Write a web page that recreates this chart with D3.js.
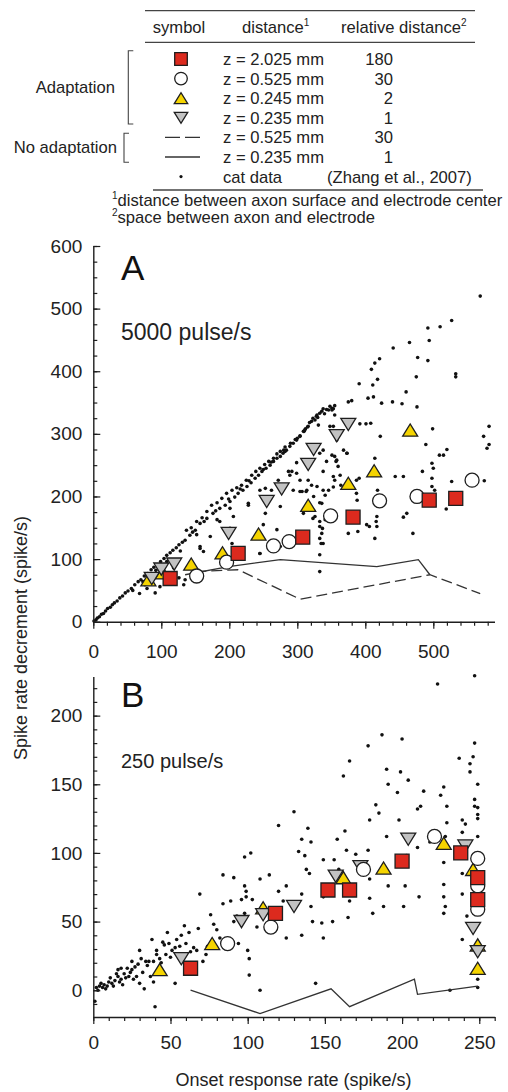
<!DOCTYPE html>
<html>
<head>
<meta charset="utf-8">
<script src="https://cdn.jsdelivr.net/npm/d3@7"></script>
<style>
body{margin:0;background:#fff;}
svg{display:block;font-family:"Liberation Sans",Arial,Helvetica,sans-serif;}
</style>
</head>
<body>
<svg id="chart" width="508" height="1092"></svg>
<script>
// ---- panel A (5000 pulse/s) ----
var aRed = [[113,69],[213,109],[308,135],[382,167],[494,194],[533,197]];
var aCircle = [[152,73],[196,95],[265,121],[288,128],[349,169],[421,193],[476,200],[557,226]];
var aYellow = [[81,67],[102,78],[144,92],[190,110],[243,140],[316,186],[375,221],[413,241],[466,306]];
var aGray = [[86,69],[100,84],[119,92],[199,141],[255,192],[277,212],[316,251],[324,275],[358,297],[375,315]];
var aSolid = [[135,75],[199,88],[275,99],[417,88],[478,99],[495,75]];
var aDashed = [[150,80],[213,83],[304,36],[495,75],[569,45]];
var aCat = [
  // thin rising edge near the origin
  [1,1],[4,3],[6,6],[9,8],[12,12],[15,13],[18,17],[21,21],[25,23],[28,27],[31,30],[35,33],[39,38],[43,41],
  [47,46],[51,49],[56,53],[61,59],[66,64],[70,67],[75,73],[80,77],[85,83],[89,87],[94,90],[99,96],[104,101],
  [108,106],[113,110],[117,114],[122,118],[126,123],[131,127],
  // upper band, top edge
  [137,146],[144,150],[152,160],[160,166],[167,176],[174,186],[182,190],[189,197],[196,205],[204,210],[211,214],
  [218,218],[225,226],[233,234],[239,240],[245,245],[252,251],[258,256],[265,261],[270,268],[275,272],[282,279],
  [290,285],[297,291],[304,296],[310,304],[316,312],[323,325],[329,330],[336,336],[343,339],[351,341],
  // upper band, lower edge
  [135,130],[142,138],[150,146],[157,157],[167,165],[176,173],[186,181],[194,186],[201,192],[208,199],[213,205],
  [220,210],[226,216],[232,222],[238,229],[243,234],[248,240],[254,245],[260,250],[265,256],[270,261],[275,264],
  [279,269],[284,274],[289,280],[294,285],[299,290],[304,297],[309,304],[315,311],[321,320],[328,328],[333,333],
  [340,332],[346,338],[353,340],[355,345],[348,344],[338,340],[330,326],[318,318],
  [146,143],[163,160],[180,177],[199,196],[216,212],[229,225],[250,243],[262,255],[280,274],[300,293],[312,308],
  [326,322],[58,50],[73,64],[92,82],[112,99],[128,113],
  // scatter below the band
  [68,45],[91,46],[108,96],[133,59],[135,67],[152,139],[157,120],[162,112],[172,136],[182,163],[201,149],
  [228,186],[245,109],[253,173],[76,59],[98,56],[118,86],[126,70],[140,88],[86,62],[79,53],
  [186,160],[201,181],[206,168],[228,189],[245,210],[253,213],[262,210],[272,226],[275,184],[289,234],[294,210],
  [299,237],[307,208],[314,210],[316,226],[321,218],[329,216],[338,240],[338,210],[343,256],[351,266],[353,232],
  [358,258],[338,274],[341,202],[336,189],[324,178],[326,168],[341,163],[333,152],[336,141],[333,133],[338,125],
  [368,274],[373,269],[250,155],[245,109],[204,125],[157,117],[270,147],[275,120],[358,290],[353,312],[351,338],
  [355,330],[311,306],[375,141],[333,160],
  // upper right scatter
  [569,520],[527,481],[510,471],[492,469],[494,449],[492,417],[465,446],[441,437],[477,422],[475,391],[421,420],
  [414,413],[409,403],[418,387],[411,378],[391,380],[533,396],[533,391],[460,367],[476,343],[404,357],[412,359],
  [424,349],[440,351],[454,348],[375,351],[380,353],[582,312],[574,296],[582,283],[579,277],[499,308],[489,283],
  [520,275],[515,266],[509,266],[498,253],[500,245],[498,229],[484,240],[527,224],[575,225],[422,296],[414,261],
  [444,232],[456,232],[392,316],[401,316],[408,317],[373,269],[357,256],[360,248],[363,234],[355,264],[391,229],
  [387,205],[388,194],[406,152],[417,152],[414,133],[417,168],[416,160],[418,210],[456,167],[461,173],[470,141],
  [519,180],[498,216],[502,210],[333,107],[333,80],[335,125],[337,149],[323,165],[319,181],[333,190],[346,210],
  [353,215],[355,226],[364,218],[387,226],[304,226],[304,208],[313,208],[324,200],[309,173],[287,240],[292,240],
  [299,254],[333,269],[282,272],[348,312],[331,314],[389,144],[402,155]
];

// ---- panel B (250 pulse/s) ----
var bRed = [[63,16],[118,56],[152,73],[166,73],[200,94],[238,100],[249,82],[249,66]];
var bCircle = [[87,34],[115,46],[175,88],[221,112],[249,96],[249,76],[249,59]];
var bYellow = [[43,15],[77,34],[110,60],[162,82],[188,89],[227,107],[246,88],[249,33],[249,16]];
var bGray = [[57,23],[96,50],[110,55],[130,61],[157,83],[173,90],[204,110],[241,105],[246,45],[249,28]];
var bSolid = [[63,0],[108,-17],[154,1],[166,-12],[208,8],[210,-3],[249,3]];
var bCat = [
  [1,-8],[2,2],[3,0],[4,3],[5,5],[6,2],[7,4],[8,1],[9,3],[10,6],[11,9],[12,5],[13,3],[14,7],[15,12],[16,10],
  [16,15],[17,6],[18,8],[18,16],[19,4],[20,12],[21,9],[22,16],[23,10],[24,13],[25,21],[25,15],[26,8],[27,17],
  [28,10],[29,19],[30,29],[30,5],[31,23],[32,13],[33,1],[34,21],[35,18],[36,21],[37,10],[38,37],[39,21],[39,6],
  [40,-12],[41,29],[41,26],[43,23],[44,20],[45,35],[46,33],[47,26],[48,42],[49,34],[50,24],[51,29],[53,31],[53,5],
  [54,37],[55,26],[56,32],[57,40],[59,47],[60,34],[62,42],[63,28],[65,31],[67,29],[68,45],[69,70],[71,21],[73,26],
  [74,32],[76,55],[78,48],[80,44],[82,38],[84,63],[84,84],[89,65],[91,50],[91,82],[93,54],[94,34],[96,66],[98,56],
  [98,76],[98,97],[99,72],[99,68],[100,29],[101,23],[101,11],[102,100],[103,66],[106,46],[108,0],[108,81],[114,84],
  [120,120],[120,72],[123,65],[125,76],[130,130],[139,118],[135,110],[141,108],[133,101],[137,98],[138,88],[140,85],
  [149,95],[156,95],[163,116],[158,110],[164,102],[159,88],[178,102],[170,99],[179,124],[190,112],[203,98],[210,104],
  [218,108],[228,112],[239,115],[239,98],[249,112],[227,93],[239,85],[227,77],[227,68],[228,61],[227,56],[239,70],
  [242,54],[239,37],[249,8],[249,2],[231,0],[144,5],[135,70],[141,61],[142,50],[135,40],[125,38],[148,49],[149,38],
  [155,50],[165,53],[166,65],[179,67],[181,56],[188,61],[191,76],[202,76],[201,61],[211,68],[179,81],[149,68],
  [247,229],[223,223],[187,186],[200,183],[178,178],[166,167],[162,156],[247,180],[246,170],[237,169],[244,165],
  [244,159],[249,150],[190,161],[199,159],[204,153],[191,150],[197,144],[214,145],[225,142],[227,148],[247,139],
  [247,134],[249,133],[249,128],[249,125],[210,132],[212,134],[183,135],[185,129],[198,124],[229,134],[239,124],
  [241,121],[229,122]
];

// ---- axes ----
var aXTicks = [0,100,200,300,400,500];
var aYTicks = [0,100,200,300,400,500,600];
var bXTicks = [0,50,100,150,200,250];
var bYTicks = [0,50,100,150,200];

// ---- legend table ----
var legendSymbols = ['square','circle','up','down','dash','solid','dot'];
var legendDistances = ['z = 2.025 mm','z = 0.525 mm','z = 0.245 mm','z = 0.235 mm','z = 0.525 mm','z = 0.235 mm','cat data'];
var legendRelative = ['180','30','2','1','30','1'];
var legendSource = '(Zhang et al., 2007)';

(function(){
var svg = d3.select('#chart'),
  ink = '#1e1e1e',
  fills = {square:'#dc2a1e', circle:'#ffffff', up:'#f5d400', down:'#c2c2c2'},

  xA = d3.scaleLinear().domain([0,590]).range([93.3,494.5]),
  yA = d3.scaleLinear().domain([0,600]).range([621.7,246]),
  xB = d3.scaleLinear().domain([0,260]).range([93.3,494.7]),
  yB = d3.scaleLinear().domain([-19.5,228.5]).range([1017,676.5]),

  shapePath = function(type, cx, cy, s){
    var h = s * 0.87;
    if(type === 'square') return 'M' + (cx-s) + ',' + (cy-s) + 'h' + (2*s) + 'v' + (2*s) + 'h' + (-2*s) + 'Z';
    if(type === 'circle') return 'M' + (cx-s) + ',' + cy + 'a' + s + ',' + s + ' 0 1,0 ' + (2*s) + ',0a' + s + ',' + s + ' 0 1,0 ' + (-2*s) + ',0Z';
    if(type === 'up') return 'M' + (cx-s*1.07) + ',' + (cy+h) + 'L' + (cx+s*1.07) + ',' + (cy+h) + 'L' + cx + ',' + (cy-h) + 'Z';
    return 'M' + (cx-s*1.07) + ',' + (cy-h) + 'L' + (cx+s*1.07) + ',' + (cy-h) + 'L' + cx + ',' + (cy+h) + 'Z';
  },
  drawMarkers = function(g, data, type, x, y){
    g.append('g').selectAll('path').data(data).enter().append('path')
      .attr('d', function(d){ return shapePath(type, x(d[0]), y(d[1]), 7); })
      .attr('fill', fills[type]).attr('stroke', ink).attr('stroke-width', 1.3);
  },
  drawDots = function(g, data, x, y){
    g.append('g').selectAll('circle').data(data).enter().append('circle')
      .attr('cx', function(d){ return x(d[0]); })
      .attr('cy', function(d){ return y(d[1]); })
      .attr('r', 1.8).attr('fill', '#111');
  },
  drawLine = function(g, data, x, y, dash){
    var line = d3.line().x(function(d){ return x(d[0]); }).y(function(d){ return y(d[1]); });
    g.append('path').datum(data).attr('d', line)
      .attr('fill', 'none').attr('stroke', '#333').attr('stroke-width', 1.3)
      .attr('stroke-dasharray', dash || null);
  },
  styleAxis = function(g, fontSize){
    g.attr('font-family', null).attr('font-size', fontSize);
    g.selectAll('path.domain').attr('stroke', ink).attr('stroke-width', 1.4);
    g.selectAll('.tick line').attr('stroke', ink).attr('stroke-width', 1.2);
    g.selectAll('.tick text').attr('fill', '#222');
  },
  drawAxes = function(x, y, xMajor, xMinor, yMajor, yMinor, xPad){
    var x0 = x.range()[0], y0 = y.range()[0];
    var gxm = svg.append('g').attr('transform', 'translate(0,' + y0 + ')')
      .call(d3.axisBottom(x).tickValues(xMinor).tickSize(4).tickSizeOuter(0).tickFormat(''));
    gxm.select('.domain').remove();
    styleAxis(gxm, 19);
    var gx = svg.append('g').attr('transform', 'translate(0,' + y0 + ')')
      .call(d3.axisBottom(x).tickValues(xMajor).tickSize(7).tickSizeOuter(0).tickPadding(xPad));
    styleAxis(gx, 19);
    var gym = svg.append('g').attr('transform', 'translate(' + x0 + ',0)')
      .call(d3.axisLeft(y).tickValues(yMinor).tickSize(-4).tickSizeOuter(0).tickFormat(''));
    gym.select('.domain').remove();
    styleAxis(gym, 19);
    var gy = svg.append('g').attr('transform', 'translate(' + x0 + ',0)')
      .call(d3.axisLeft(y).tickValues(yMajor).tickSize(-7).tickSizeOuter(0).tickPadding(11));
    styleAxis(gy, 19);
  },
  drawPanel = function(p){
    var g = svg.append('g');
    drawDots(g, p.cat, p.x, p.y);
    p.lines.forEach(function(l){ drawLine(g, l.data, p.x, p.y, l.dash); });
    drawMarkers(g, p.yellow, 'up', p.x, p.y);
    drawMarkers(g, p.gray, 'down', p.x, p.y);
    drawMarkers(g, p.circle, 'circle', p.x, p.y);
    drawMarkers(g, p.red, 'square', p.x, p.y);
    drawAxes(p.x, p.y, p.xMajor, p.xMinor, p.yMajor, p.yMinor, p.xPad);
    svg.append('text').attr('x', 121).attr('y', p.letterY).attr('font-size', 35).attr('fill', '#111').text(p.letter);
    svg.append('text').attr('x', 121).attr('y', p.rateY).attr('font-size', p.rateSize).attr('fill', '#222').text(p.rate);
  },
  drawLegend = function(){
    var g = svg.append('g').attr('fill', '#222').attr('font-size', 16.6),
      rowY = [59, 78.6, 98.2, 117.8, 137.4, 157, 176.6],
      rule = function(x1, x2, yy){
        g.append('line').attr('x1', x1).attr('x2', x2).attr('y1', yy).attr('y2', yy)
          .attr('stroke', '#444').attr('stroke-width', 1.3);
      },
      bracket = function(xx, y1, y2){
        g.append('path').attr('d', 'M' + (xx+5) + ',' + y1 + 'H' + xx + 'V' + y2 + 'H' + (xx+5))
          .attr('fill', 'none').attr('stroke', '#444').attr('stroke-width', 1.1);
      },
      sup = function(t, main, mark){
        t.append('tspan').text(main);
        t.append('tspan').attr('font-size', 10).attr('dy', -7).text(mark);
      };
    rule(145, 475, 10.7);
    rule(145, 475, 42.3);
    rule(153, 483, 190);
    g.append('text').attr('x', 179).attr('y', 33).attr('text-anchor', 'middle').text('symbol');
    sup(g.append('text').attr('x', 242).attr('y', 33), 'distance', '1');
    sup(g.append('text').attr('x', 341).attr('y', 33), 'relative distance', '2');

    legendSymbols.forEach(function(s, i){
      var cy = rowY[i];
      if(fills[s]){
        g.append('path').attr('d', shapePath(s, 181, cy, 6.3))
          .attr('fill', fills[s]).attr('stroke', ink).attr('stroke-width', 1.3);
      } else if(s === 'dot'){
        g.append('circle').attr('cx', 181).attr('cy', cy).attr('r', 1.6).attr('fill', '#111');
      } else {
        g.append('line').attr('x1', 165).attr('x2', 200).attr('y1', cy).attr('y2', cy)
          .attr('stroke', '#333').attr('stroke-width', 1.3)
          .attr('stroke-dasharray', s === 'dash' ? '15,5' : null);
      }
      g.append('text').attr('x', 223).attr('y', cy + 6).text(legendDistances[i]);
      if(i < legendRelative.length)
        g.append('text').attr('x', 393).attr('y', cy + 6).attr('text-anchor', 'end').text(legendRelative[i]);
    });
    g.append('text').attr('x', 327).attr('y', rowY[6] + 6).text(legendSource);

    g.append('text').attr('x', 115).attr('y', 93).attr('text-anchor', 'end').text('Adaptation');
    bracket(128.3, 50.7, 124);
    g.append('text').attr('x', 117).attr('y', 153).attr('text-anchor', 'end').text('No adaptation');
    bracket(124, 133.3, 162.3);

    var f1 = g.append('text').attr('x', 112).attr('y', 206);
    f1.append('tspan').attr('font-size', 10).attr('dy', -7).text('1');
    f1.append('tspan').attr('dy', 7).text('distance between axon surface and electrode center');
    var f2 = g.append('text').attr('x', 112).attr('y', 223);
    f2.append('tspan').attr('font-size', 10).attr('dy', -7).text('2');
    f2.append('tspan').attr('dy', 7).text('space between axon and electrode');
  };

drawLegend();

drawPanel({
  x: xA, y: yA, cat: aCat, red: aRed, circle: aCircle, yellow: aYellow, gray: aGray,
  lines: [{data: aSolid}, {data: aDashed, dash: '11,5'}],
  xMajor: aXTicks, xMinor: d3.range(0, 591, 20), yMajor: aYTicks, yMinor: d3.range(0, 601, 25),
  xPad: 16, letter: 'A', letterY: 280, rate: '5000 pulse/s', rateY: 340, rateSize: 23
});

drawPanel({
  x: xB, y: yB, cat: bCat, red: bRed, circle: bCircle, yellow: bYellow, gray: bGray,
  lines: [{data: bSolid}],
  xMajor: bXTicks, xMinor: d3.range(0, 261, 10), yMajor: bYTicks, yMinor: d3.range(-10, 221, 10),
  xPad: 11.5, letter: 'B', letterY: 707, rate: '250 pulse/s', rateY: 768, rateSize: 20
});

svg.append('text').attr('x', 293.5).attr('y', 1086).attr('text-anchor', 'middle')
  .attr('font-size', 18).attr('fill', '#222').text('Onset response rate (spike/s)');
svg.append('text').attr('transform', 'translate(27,638) rotate(-90)').attr('text-anchor', 'middle')
  .attr('font-size', 18).attr('fill', '#222').text('Spike rate decrement (spike/s)');
})();
</script>
</body>
</html>
